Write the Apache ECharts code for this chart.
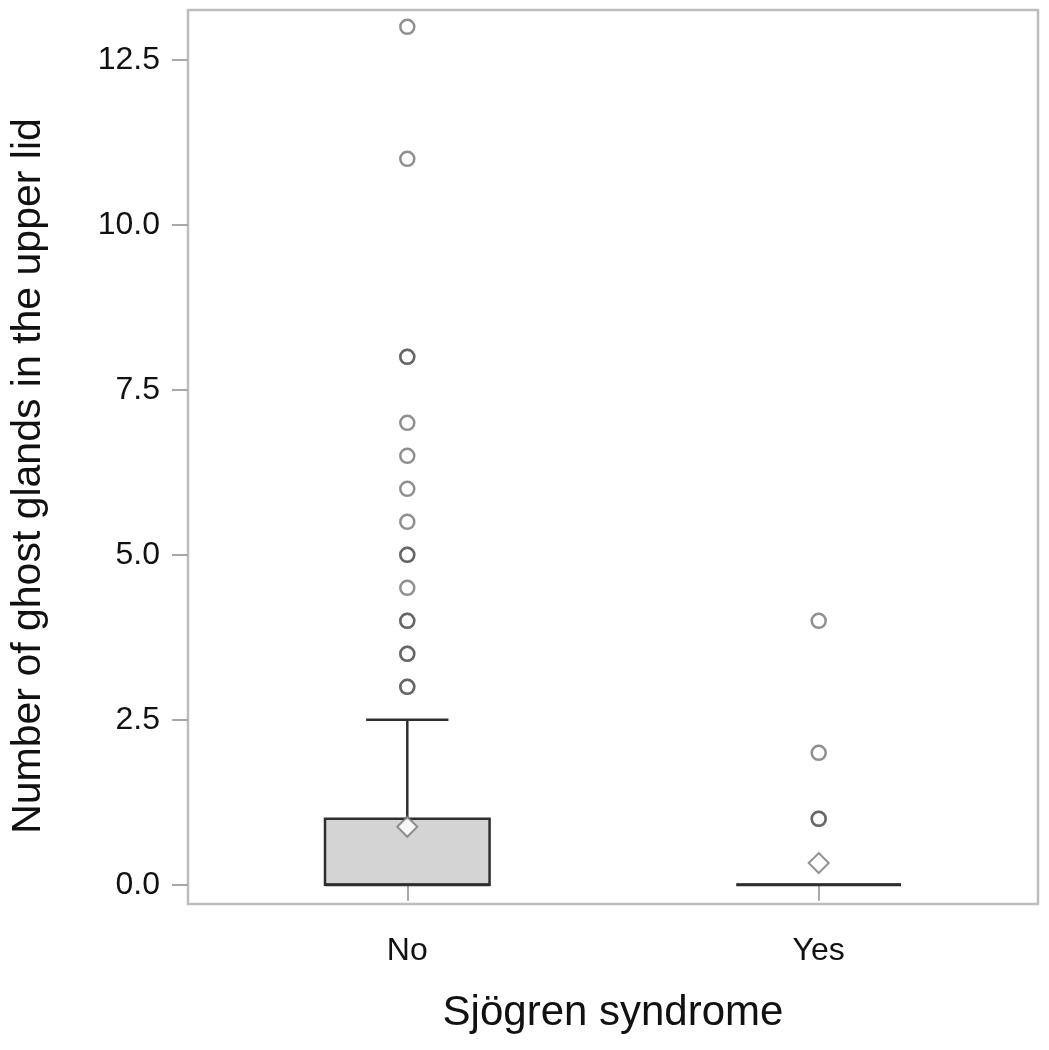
<!DOCTYPE html>
<html>
<head>
<meta charset="utf-8">
<script src="https://cdn.jsdelivr.net/npm/echarts@6/dist/echarts.min.js"></script>
<style>
html,body{margin:0;padding:0;background:#fff;}
#chart{width:1049px;height:1050px;}
</style>
</head>
<body>
<div id="chart"></div>
<script>
// ---- data ----
const categories = ['No', 'Yes'];
const categoryPos = [1, 2];
const whiskerLow = [0, 0];
const q1 = [0, 0];
const median = [0, 0];
const q3 = [1, 0];
const whiskerHigh = [2.5, 0];
const means = [0.88, 0.33];
const outliersNo = [3, 3, 3.5, 3.5, 4, 4, 4.5, 5, 5, 5.5, 6, 6.5, 7, 8, 8, 11, 13];
const outliersYes = [1, 1, 2, 4];
const yTicks = [0, 2.5, 5, 7.5, 10, 12.5];
const xTitle = 'Sjögren syndrome';
const yTitle = 'Number of ghost glands in the upper lid';

const boxData = categories.map((c, i) => [categoryPos[i], whiskerLow[i], q1[i], median[i], q3[i], whiskerHigh[i]]);
const meanData = categories.map((c, i) => [categoryPos[i], means[i]]);
const outlierData = outliersNo.map(v => [categoryPos[0], v]).concat(outliersYes.map(v => [categoryPos[1], v]));

const FONT = '"Liberation Sans", Arial, Helvetica, sans-serif';
const chart = echarts.init(document.getElementById('chart'), null, {renderer: 'canvas'});

function renderBox(params, api) {
  const x = api.value(0);
  const pLow = api.coord([x, api.value(1)]);
  const pQ1 = api.coord([x, api.value(2)]);
  const pMed = api.coord([x, api.value(3)]);
  const pQ3 = api.coord([x, api.value(4)]);
  const pHigh = api.coord([x, api.value(5)]);
  const bw = api.size([0.4, 0])[0];
  const cw = bw / 2;
  const cx = pQ1[0];
  const lineStyle = {stroke: '#2e2e2e', lineWidth: 2.5, fill: null};
  const children = [];
  if (pHigh[1] < pQ3[1]) {
    children.push({type: 'line', shape: {x1: cx, y1: pQ3[1], x2: cx, y2: pHigh[1]}, style: lineStyle});
    children.push({type: 'line', shape: {x1: cx - cw / 2, y1: pHigh[1], x2: cx + cw / 2, y2: pHigh[1]}, style: lineStyle});
  }
  if (pLow[1] > pQ1[1]) {
    children.push({type: 'line', shape: {x1: cx, y1: pQ1[1], x2: cx, y2: pLow[1]}, style: lineStyle});
    children.push({type: 'line', shape: {x1: cx - cw / 2, y1: pLow[1], x2: cx + cw / 2, y2: pLow[1]}, style: lineStyle});
  }
  children.push({type: 'rect', shape: {x: cx - bw / 2, y: pQ3[1], width: bw, height: pQ1[1] - pQ3[1]},
    style: {fill: '#d4d4d4', stroke: '#2e2e2e', lineWidth: 2.5}});
  children.push({type: 'line', shape: {x1: cx - bw / 2, y1: pMed[1], x2: cx + bw / 2, y2: pMed[1]},
    style: {stroke: '#2e2e2e', lineWidth: 3}});
  return {type: 'group', children};
}

const option = {
  backgroundColor: '#ffffff',
  animation: false,
  grid: {left: 188, right: 11, top: 10, bottom: 146, show: true, borderColor: '#bdbdbd', borderWidth: 2.5, backgroundColor: '#ffffff'},
  xAxis: {
    type: 'value', min: 0.467, max: 2.533,
    splitLine: {show: false},
    axisLine: {show: false},
    axisTick: {show: true, length: 16, customValues: categoryPos, lineStyle: {color: '#a8a8a8', width: 2}},
    axisLabel: {show: true, customValues: categoryPos, margin: 31, fontSize: 32, color: '#111', fontFamily: FONT,
      formatter: v => { const i = categoryPos.indexOf(v); return i >= 0 ? categories[i] : ''; }}
  },
  yAxis: {
    type: 'value', min: -0.29, max: 13.255,
    splitLine: {show: false},
    axisLine: {show: false},
    axisTick: {show: true, length: 16, customValues: yTicks, lineStyle: {color: '#a8a8a8', width: 2}},
    axisLabel: {show: true, customValues: yTicks, margin: 28, fontSize: 32, color: '#111', fontFamily: FONT,
      formatter: v => Number(v).toFixed(1)}
  },
  graphic: [
    {type: 'text', x: 613, y: 1013, style: {text: xTitle, font: '42px ' + FONT, fill: '#111', textAlign: 'center', textVerticalAlign: 'middle'}},
    {type: 'text', x: 29, y: 476, rotation: Math.PI / 2, style: {text: yTitle, font: '41px ' + FONT, fill: '#111', textAlign: 'center', textVerticalAlign: 'middle'}}
  ],
  series: [
    {type: 'custom', renderItem: renderBox, data: boxData, encode: {x: 0, y: [1, 2, 3, 4, 5]}, z: 2},
    {type: 'scatter', data: outlierData, symbol: 'circle', symbolSize: 14, z: 3,
      itemStyle: {color: 'rgba(255,255,255,0)', borderColor: 'rgba(80,80,80,0.8)', borderWidth: 2.5}},
    {type: 'scatter', data: meanData, symbol: 'diamond', symbolSize: [20, 20], z: 4,
      itemStyle: {color: '#ffffff', borderColor: '#777777', borderWidth: 2}}
  ]
};
chart.setOption(option);
</script>
</body>
</html>
